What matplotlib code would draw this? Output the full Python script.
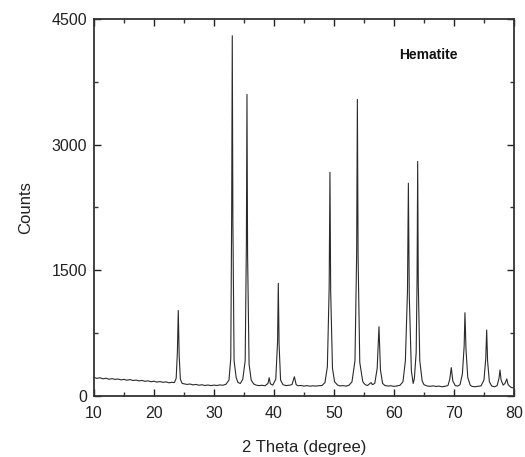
import matplotlib
matplotlib.use("Agg")
import matplotlib.pyplot as plt
from matplotlib.ticker import MultipleLocator

plt.rcParams['font.family'] = ['Liberation Sans', 'DejaVu Sans']

two_theta = [
    10.0, 10.5, 11.0, 11.5, 12.0, 12.5, 13.0, 13.5, 14.0, 14.5, 15.0, 15.5, 16.0, 16.5,
    17.0, 17.5, 18.0, 18.5, 19.0, 19.5, 20.0, 20.5, 21.0, 21.5, 22.0, 22.5, 23.0, 23.4,
    23.7, 23.9, 24.05, 24.2, 24.4, 24.7, 25.0, 25.5, 26.0, 26.5, 27.0, 27.5, 28.0, 28.5,
    29.0, 29.5, 30.0, 30.5, 31.0, 31.5, 32.0, 32.5, 32.8, 32.95, 33.05, 33.15, 33.35, 33.7,
    34.0, 34.4, 34.8, 35.2, 35.4, 35.5, 35.6, 35.85, 36.2, 36.6, 37.0, 37.5, 38.0, 38.5,
    39.0, 39.2, 39.4, 39.8, 40.3, 40.6, 40.72, 40.85, 41.1, 41.5, 42.0, 42.5, 43.0, 43.4,
    43.7, 44.0, 44.5, 45.0, 45.5, 46.0, 46.5, 47.0, 47.5, 48.0, 48.5, 48.9, 49.2, 49.33,
    49.45, 49.75, 50.1, 50.6, 51.0, 51.5, 52.0, 52.5, 53.0, 53.5, 53.78, 53.9, 54.02, 54.3,
    54.8, 55.2, 55.6, 56.0, 56.2, 56.4, 56.8, 57.2, 57.5, 57.75, 58.1, 58.5, 59.0, 59.5,
    60.0, 60.5, 61.0, 61.5, 61.9, 62.25, 62.4, 62.55, 62.9, 63.2, 63.4, 63.7, 63.85, 63.95,
    64.05, 64.3, 64.7, 65.0, 65.5, 66.0, 66.5, 67.0, 67.5, 68.0, 68.5, 69.0, 69.3, 69.55,
    69.8, 70.2, 70.6, 71.0, 71.4, 71.7, 71.83, 72.0, 72.3, 72.7, 73.0, 73.5, 74.0, 74.5,
    75.0, 75.3, 75.45, 75.6, 75.9, 76.3, 76.8, 77.2, 77.5, 77.67, 77.85, 78.2, 78.5, 78.8,
    79.0, 79.3, 79.6, 80.0,
]
counts = [
    222, 210, 218, 205, 212, 200, 207, 198, 203, 192, 199, 188, 196, 185,
    190, 180, 186, 175, 181, 170, 176, 166, 172, 163, 168, 158, 163, 160,
    210, 520, 1020, 480, 200, 150, 145, 138, 143, 133, 138, 128, 134, 125,
    131, 124, 130, 126, 132, 128, 140, 190, 450, 2200, 4300, 2100, 420, 220,
    160, 150, 200, 420, 1800, 3600, 1700, 380, 190, 145, 130, 124, 128, 122,
    150, 218, 145, 130, 200, 650, 1345, 620, 190, 135, 124, 128, 135, 230,
    135, 122, 126, 118, 124, 117, 122, 118, 123, 125, 160, 350, 1300, 2670,
    1250, 330, 170, 130, 120, 124, 118, 128, 170, 420, 1700, 3540, 1650, 400,
    170, 135, 125, 150, 160, 135, 150, 330, 827, 310, 150, 125, 118, 122,
    115, 120, 128, 170, 420, 1250, 2540, 1200, 300, 150, 210, 520, 1400, 2800,
    1350, 420, 180, 135, 120, 115, 121, 114, 118, 110, 116, 125, 200, 338,
    180, 125, 118, 135, 260, 600, 994, 560, 220, 130, 115, 110, 116, 120,
    190, 450, 788, 420, 170, 118, 110, 125, 210, 310, 190, 130, 150, 203,
    140, 115, 100, 95,
]

x_ticks = [10, 20, 30, 40, 50, 60, 70, 80]
y_ticks = [0, 1500, 3000, 4500]

fig = plt.figure(figsize=(5.25, 4.57), dpi=100)
ax = fig.add_axes([0.179, 0.1335, 0.8, 0.825])
ax.plot(two_theta, counts, color='#2a2a2a', lw=0.8)

ax.set_xlim(10, 80)
ax.set_ylim(0, 4500)
ax.set_xticks(x_ticks)
ax.set_yticks(y_ticks)
ax.xaxis.set_minor_locator(MultipleLocator(5))
ax.yaxis.set_minor_locator(MultipleLocator(750))
ax.tick_params(which='both', direction='in', top=True, right=True, color='#333333', width=1.0)
ax.tick_params(which='major', length=5, labelsize=11.5, colors='#222222')
ax.tick_params(which='minor', length=3)
ax.tick_params(axis='y', pad=5)
ax.tick_params(axis='x', pad=7)
for s in ax.spines.values():
    s.set_linewidth(1.3)
    s.set_color('#333333')

ax.set_xlabel('2 Theta (degree)', fontsize=12, labelpad=14, color='#222222')
ax.set_ylabel('Counts', fontsize=12, labelpad=13, color='#222222')
ax.text(0.795, 0.905, 'Hematite', transform=ax.transAxes, fontsize=10,
        fontweight='bold', ha='center', va='center', color='#111111')

fig.savefig('out.png', dpi=100)
